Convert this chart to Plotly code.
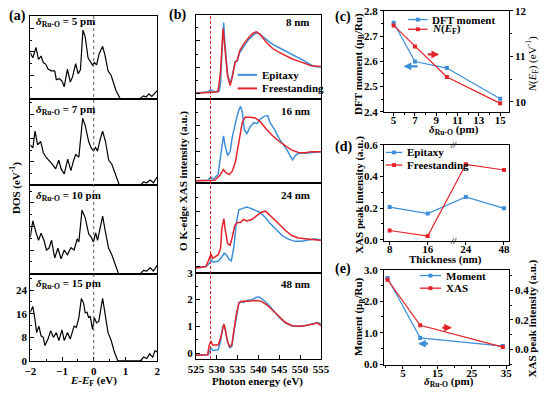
import plotly.graph_objects as go

W, H = 546, 396
BLUE = '#3d8fd9'
RED = '#e3232a'
FONT = 'Liberation Serif'

# ---------------- (a) DOS data ----------------
dos_labels = ['5 pm', '7 pm', '10 pm', '15 pm']
E_5 = [-2.00,-1.92,-1.82,-1.74,-1.66,-1.59,-1.51,-1.44,-1.34,-1.23,-1.18,-1.08,-1.00,-0.93,-0.83,-0.74,-0.67,-0.57,-0.49,-0.42,-0.34,-0.27,-0.18,-0.11,-0.04,0.02,0.09,0.17,0.28,0.35,0.45,0.55,0.70,0.84,1.37,1.47,1.57,1.65,1.74,1.83,1.93,2.00]
D_5 = [15.7,14.0,17.5,13.5,14.6,12.4,11.8,10.2,9.6,9.6,6.6,6.9,6.1,4.2,10.2,5.8,7.5,12.0,8.6,9.9,23.4,21.2,14.0,12.9,11.5,12.4,11.6,15.4,17.9,15.1,9.6,8.0,2.9,0,0,0.3,1.1,0.7,1.8,0.9,2.0,2.9]
E_7 = [-2.00,-1.92,-1.85,-1.77,-1.67,-1.59,-1.49,-1.39,-1.31,-1.20,-1.10,-1.03,-0.93,-0.82,-0.72,-0.64,-0.57,-0.47,-0.35,-0.27,-0.16,-0.08,-0.01,0.06,0.12,0.19,0.28,0.37,0.47,0.57,0.70,0.81,1.47,1.57,1.67,1.78,1.88,2.00]
D_7 = [13.8,12.7,18.4,13.8,14.9,11.1,9.4,8.3,7.2,5.6,8.6,5.6,3.9,8.9,5.0,8.3,10.5,9.6,22.8,20.4,14.9,12.7,11.8,12.9,11.6,15.1,18.4,14.9,8.6,7.2,2.9,0,0,1.2,0.9,1.8,0.9,2.85]
E_10 = [-2.00,-1.92,-1.82,-1.74,-1.66,-1.57,-1.49,-1.41,-1.33,-1.23,-1.13,-1.03,-0.93,-0.83,-0.72,-0.62,-0.52,-0.47,-0.37,-0.27,-0.16,-0.08,-0.01,0.06,0.12,0.19,0.28,0.37,0.47,0.57,0.67,0.78,1.47,1.57,1.67,1.78,1.88,2.00]
D_10 = [12.4,17.9,14.0,11.3,13.7,11.3,8.0,8.6,11.3,5.3,8.6,5.0,8.0,6.4,8.8,8.0,11.8,10.7,21.5,19.0,13.5,12.4,10.7,13.8,11.3,15.1,19.5,14.0,8.6,6.4,3.1,0,0,1.1,0.9,2.0,0.9,2.8]
E_15 = [-2.00,-1.92,-1.85,-1.80,-1.73,-1.66,-1.59,-1.54,-1.44,-1.36,-1.27,-1.18,-1.10,-1.00,-0.93,-0.83,-0.74,-0.62,-0.55,-0.47,-0.39,-0.32,-0.27,-0.21,-0.16,-0.11,-0.04,0.02,0.09,0.16,0.28,0.35,0.45,0.55,0.65,0.76,1.47,1.57,1.67,1.76,1.86,1.93,2.00]
D_15 = [16.5,18.5,14.0,9.6,11.8,8.5,8.0,5.2,7.4,10.2,8.0,9.6,6.9,10.5,6.9,9.6,7.4,11.8,11.3,14.6,21.2,19.6,16.3,16.5,14.6,15.2,10.7,14.6,12.9,13.5,21.2,16.8,9.6,6.9,3.0,0,0,1.3,0.8,2.4,1.3,3.5,3.0]

# ---------------- (b) XAS data ----------------
xas_labels = ['8 nm', '16 nm', '24 nm', '48 nm']
Eb_8 = [525,527.9,528.6,529.5,530.6,530.9,531.2,531.65,532.0,532.6,533.2,533.7,534.4,534.9,535.5,536.4,537.6,538.8,539.5,540.3,541.9,543.4,545.0,546.5,548.0,549.6,551.1,552.3,553.5,555]
Ib_8 = [0,0.06,0.14,0.05,0.1,0.4,1.44,2.7,1.8,0.72,0.36,0.66,1.2,1.23,1.56,1.78,2.05,2.23,2.31,2.26,2.05,1.87,1.74,1.62,1.50,1.38,1.23,1.11,1.02,1.0]
Er_8 = [525,527.9,530.3,530.9,531.5,531.9,532.6,533.2,533.7,534.4,534.9,535.5,536.4,537.6,538.6,539.5,540.3,541.9,543.4,545.0,546.5,548.0,549.6,551.1,552.7,555]
Ir_8 = [0,0.02,0.06,0.84,2.47,1.8,0.66,0.3,0.6,1.2,1.26,1.62,1.87,2.11,2.29,2.35,2.26,1.95,1.71,1.56,1.44,1.32,1.23,1.14,1.05,1.02]
Eb_16 = [525,527.9,528.6,529.1,530.3,531.0,531.6,532.0,532.6,533.2,533.7,534.5,535.3,535.7,536.1,536.6,537.2,538.0,538.9,539.7,540.5,541.5,542.2,542.8,543.8,545.0,546.1,546.9,547.7,548.2,548.8,549.6,551.1,552.7,555]
Ib_16 = [-0.12,-0.1,0.02,-0.06,0.12,0.86,1.6,1.23,0.84,0.99,1.54,2.1,2.59,2.72,2.53,1.85,1.67,1.95,2.1,2.07,2.25,2.35,2.37,2.1,1.85,1.48,1.23,1.05,0.8,0.68,0.84,0.93,0.93,0.96,0.99]
Er_16 = [525,529.5,530.6,531.6,532.2,533.0,533.7,534.5,535.3,536.1,536.8,538.0,539.2,540.3,541.9,543.4,545.0,546.5,548.0,549.6,551.1,552.7,555]
Ir_16 = [-0.12,-0.1,0.06,0.31,0.19,0.12,0.25,0.62,1.36,2.1,2.31,2.31,2.28,2.16,1.85,1.6,1.38,1.21,1.05,0.96,0.95,0.99,0.99]
Eb_24 = [525,527.4,528.3,528.7,529.1,530.3,531.0,531.8,532.2,533.0,533.5,534.1,534.7,535.3,536.1,537.2,538.0,539.2,540.3,541.5,542.6,544.2,545.7,547.3,548.8,550.4,551.9,553.5,555]
Ib_24 = [-0.02,0,0.13,0.25,0.16,0.19,0.3,0.48,0.44,0.25,0.21,0.71,1.59,2.05,2.09,2.15,2.11,2.03,1.96,1.8,1.59,1.35,1.12,0.98,0.91,0.91,0.95,1.0,0.95]
Er_24 = [525,527.4,528.1,528.6,529.0,530.3,530.9,531.2,531.7,532.0,532.6,533.2,533.7,534.3,534.9,535.7,536.4,537.2,538.4,539.5,540.7,541.7,542.6,543.8,545.0,546.5,548.0,549.6,551.1,552.7,555]
Ir_24 = [-0.05,0,0.25,0.46,0.3,0.42,0.65,1.35,1.73,1.35,0.83,0.77,1.06,1.47,1.59,1.59,1.7,1.65,1.7,1.82,1.96,2.0,1.88,1.7,1.53,1.3,1.12,1.03,1.0,0.98,0.95]
Eb_48 = [525,527.9,528.6,529.1,530.3,530.9,531.4,531.7,532.0,532.6,533.1,533.6,534.1,534.7,535.3,535.7,536.4,537.2,538.4,539.5,540.3,541.1,542.2,543.4,545.0,546.5,548.0,549.6,551.1,552.7,554.2,555]
Ib_48 = [-0.08,-0.06,0.18,0.1,0.12,0.42,0.96,1.08,0.9,0.42,0.2,0.24,0.78,1.39,1.87,1.93,1.89,1.96,1.99,2.08,2.08,1.99,1.84,1.63,1.33,1.12,1.02,0.99,1.02,1.08,1.14,1.08]
Er_48 = [525,527.8,528.2,528.6,529.0,530.3,530.9,531.4,531.7,532.0,532.6,533.1,533.6,534.1,534.7,535.3,536.1,537.2,538.4,539.5,540.7,541.9,543.4,545.0,546.5,548.0,549.6,551.1,552.7,554.2,555]
Ir_48 = [-0.08,-0.06,0.3,0.45,0.3,0.3,0.54,0.96,1.08,0.9,0.42,0.24,0.3,0.84,1.45,1.87,1.93,1.93,1.95,1.96,1.93,1.81,1.6,1.35,1.14,1.02,1.0,1.02,1.08,1.12,1.02]
edge_E = 528.5

# ---------------- (c) ----------------
delta_c = [5, 7, 10, 15]
moment_c = [2.753, 2.599, 2.573, 2.451]
nef_c = [11.68, 11.22, 10.55, 9.97]

# ---------------- (d) ----------------
thickness = ['8', '16', '24', '48']
epi_d = [0.206, 0.165, 0.27, 0.198]
free_d = [0.058, 0.023, 0.476, 0.44]

# ---------------- (e) ----------------
delta_e = [0.5, 10, 34]
moment_e = [2.74, 0.835, 0.575]
xas_e = [0.473, 0.163, 0.015]


def px(x):
    return x / W


def py(y):
    return 1 - y / H


def fnt(size=11, color='black', weight='bold', italic=False):
    d = dict(family=FONT, size=size, color=color, weight=weight)
    if italic:
        d['style'] = 'italic'
    return d


def axn(i, c):
    return f'{c}axis' if i == 1 else f'{c}axis{i}'


def ref(i, c):
    return c if i == 1 else f'{c}{i}'


def base_axis(**kw):
    d = dict(showline=True, linecolor='black', linewidth=1, mirror=True, showgrid=False,
             zeroline=False, ticks='inside', ticklen=4, tickwidth=1, tickcolor='black',
             tickfont=fnt(11))
    d.update(kw)
    return d


fig = go.Figure()
layout = dict(width=W, height=H, margin=dict(l=0, r=0, t=0, b=0),
              paper_bgcolor='white', plot_bgcolor='rgba(0,0,0,0)', showlegend=False,
              font=fnt(11))
shapes = []
annotations = []


def ann(text, x, y, size=11, xanchor='center', angle=0, weight='bold', color='black'):
    annotations.append(dict(text=text, x=px(x), y=py(y), xref='paper', yref='paper',
                            showarrow=False, xanchor=xanchor, yanchor='middle',
                            textangle=angle, font=fnt(size, color, weight)))


# ---- panel (a) ----
a_rows = [(10, 96), (96, 185), (185, 276), (276, 366)]
a_top = [28.3, 29.3, 29.9, 29.6]
dos_E = [E_5, E_7, E_10, E_15]
dos_D = [D_5, D_7, D_10, D_15]
for k in range(4):
    i = k + 1
    t, b = a_rows[k]
    last = (k == 3)
    layout[axn(i, 'x')] = base_axis(domain=[px(23), px(154)], range=[-2, 2], anchor=ref(i, 'y'),
                                    tickvals=[-2, -1, 0, 1, 2], showticklabels=last,
                                    ticks='inside' if last else '',
                                    minor=dict(ticks='inside' if last else '', ticklen=2, dtick=0.5, tick0=0))
    layout[axn(i, 'y')] = base_axis(domain=[py(b), py(t)], range=[0, a_top[k]], anchor=ref(i, 'x'),
                                    tick0=0, dtick=8, showticklabels=last,
                                    minor=dict(ticks='inside', ticklen=2, dtick=4, tick0=0))
    fig.add_trace(go.Scatter(x=dos_E[k], y=dos_D[k], mode='lines', line=dict(color='black', width=1.2),
                             xaxis=ref(i, 'x'), yaxis=ref(i, 'y')))
    ann('<i>δ</i><sub>Ru-O</sub> = ' + dos_labels[k], 27, (17 if k == 0 else t + 11), xanchor='left')

shapes.append(dict(type='line', xref='x', yref='paper', x0=0, x1=0, y0=py(366), y1=py(10),
                   line=dict(color='#555555', width=1, dash='dot')))

# ---- panel (b) ----
b_rows = [(9, 96), (96, 183), (183, 275), (275, 364)]
xas_b = [(Eb_8, Ib_8, Er_8, Ir_8), (Eb_16, Ib_16, Er_16, Ir_16),
         (Eb_24, Ib_24, Er_24, Ir_24), (Eb_48, Ib_48, Er_48, Ir_48)]
for k in range(4):
    i = k + 5
    t, b = b_rows[k]
    last = (k == 3)
    layout[axn(i, 'x')] = base_axis(domain=[px(194), px(323)], range=[525, 555], anchor=ref(i, 'y'),
                                    tick0=525, dtick=5, showticklabels=last,
                                    ticks='inside' if last else '')
    layout[axn(i, 'y')] = base_axis(domain=[py(b), py(t)], range=[-0.22, 3.0], anchor=ref(i, 'x'),
                                    tick0=0, dtick=1, showticklabels=last,
                                    minor=dict(ticks='inside', ticklen=2, dtick=0.5, tick0=0))
    eb, ib, er, ir = xas_b[k]
    fig.add_trace(go.Scatter(x=eb, y=ib, mode='lines', line=dict(color=BLUE, width=1.5),
                             xaxis=ref(i, 'x'), yaxis=ref(i, 'y')))
    fig.add_trace(go.Scatter(x=er, y=ir, mode='lines', line=dict(color=RED, width=1.5),
                             xaxis=ref(i, 'x'), yaxis=ref(i, 'y')))
    ann(xas_labels[k], 314, (16 if k == 0 else t + 12), xanchor='right')

shapes.append(dict(type='line', xref='x5', yref='paper', x0=edge_E, x1=edge_E, y0=py(364), y1=py(9),
                   line=dict(color=RED, width=1, dash='3px,2px')))

# ---- panel (c) ----
layout['xaxis9'] = base_axis(domain=[px(388), px(517)], range=[4.09, 15.82], anchor='y9',
                             tickvals=[5, 7, 9, 11, 13, 15], ticks='outside', ticklen=3,
                             ticklabelstandoff=-5,
                             minor=dict(ticks='outside', ticklen=2, dtick=1, tick0=0))
layout['yaxis9'] = base_axis(domain=[py(109), py(5)], range=[2.4, 2.8], anchor='x9', ticks='outside',
                             ticklen=3, tick0=2.4, dtick=0.1, tickformat='.1f',
                             minor=dict(ticks='outside', ticklen=2, dtick=0.05, tick0=2.4))
layout['yaxis10'] = base_axis(range=[9.787, 12], anchor='x9', overlaying='y9', side='right',
                              ticks='outside', ticklen=3, mirror=False, tick0=10, dtick=1,
                              minor=dict(ticks='outside', ticklen=2, dtick=0.5, tick0=10))
fig.add_trace(go.Scatter(x=delta_c, y=moment_c, mode='lines+markers', line=dict(color=BLUE, width=1.2),
                         marker=dict(symbol='square', size=4, color=BLUE), xaxis='x9', yaxis='y9'))
fig.add_trace(go.Scatter(x=delta_c, y=nef_c, mode='lines+markers', line=dict(color=RED, width=1.2),
                         marker=dict(symbol='square', size=4, color=RED), xaxis='x9', yaxis='y10'))

# ---- panel (d) ----
layout['xaxis10'] = base_axis(domain=[px(388), px(517)], type='category', range=[-0.15, 3.13],
                              anchor='y11', ticks='outside', ticklen=3, ticklabelstandoff=-5)
layout['yaxis11'] = base_axis(domain=[py(242), py(143)], range=[-0.006, 0.6], anchor='x10',
                              ticks='outside', ticklen=3, tick0=0, dtick=0.2, tickformat='.1f',
                              minor=dict(ticks='outside', ticklen=2, dtick=0.1, tick0=0))
fig.add_trace(go.Scatter(x=thickness, y=epi_d, mode='lines+markers', line=dict(color=BLUE, width=1.2),
                         marker=dict(symbol='square', size=4, color=BLUE), xaxis='x10', yaxis='y11'))
fig.add_trace(go.Scatter(x=thickness, y=free_d, mode='lines+markers', line=dict(color=RED, width=1.2),
                         marker=dict(symbol='square', size=4, color=RED), xaxis='x10', yaxis='y11'))
for yy in (143, 242):
    annotations.append(dict(text='//', x=1.69, y=py(yy), xref='x10', yref='paper', showarrow=False,
                            font=fnt(9, italic=True), xanchor='center', yanchor='middle'))

# ---- panel (e) ----
layout['xaxis11'] = base_axis(domain=[px(388), px(517)], range=[-0.54, 35.76], anchor='y12',
                              tickvals=[5, 15, 25, 35], ticks='outside', ticklen=3, ticklabelstandoff=-5,
                              minor=dict(ticks='outside', ticklen=2, dtick=5, tick0=0))
layout['yaxis12'] = base_axis(domain=[py(370), py(272)], range=[-0.02, 3.0], anchor='x11',
                              ticks='outside', ticklen=3, tick0=0, dtick=1, tickformat='.1f',
                              minor=dict(ticks='outside', ticklen=2, dtick=0.5, tick0=0))
layout['yaxis13'] = base_axis(range=[-0.105, 0.54], anchor='x11', overlaying='y12', side='right',
                              ticks='outside', ticklen=3, mirror=False, tickvals=[0, 0.2, 0.4],
                              tickformat='.1f',
                              minor=dict(ticks='outside', ticklen=2, dtick=0.1, tick0=0))
fig.add_trace(go.Scatter(x=delta_e, y=moment_e, mode='lines+markers', line=dict(color=BLUE, width=1.2),
                         marker=dict(symbol='square', size=4, color=BLUE), xaxis='x11', yaxis='y12'))
fig.add_trace(go.Scatter(x=delta_e, y=xas_e, mode='lines+markers', line=dict(color=RED, width=1.2),
                         marker=dict(symbol='square', size=4, color=RED), xaxis='x11', yaxis='y13'))


# ---- arrows ----
def arrow(xh, yh, xt, yt, xr, yr, color):
    annotations.append(dict(x=xh, y=yh, ax=xt, ay=yt, xref=xr, yref=yr, axref=xr, ayref=yr,
                            showarrow=True, arrowhead=2, arrowsize=0.7, arrowwidth=2.2,
                            arrowcolor=color, text=''))


arrow(9.27, 2.627, 8.06, 2.627, 'x9', 'y9', RED)
arrow(5.94, 2.58, 7.39, 2.58, 'x9', 'y9', BLUE)
arrow(19.2, 1.16, 16.0, 1.16, 'x11', 'y12', RED)
arrow(9.4, 0.65, 12.7, 0.65, 'x11', 'y12', BLUE)


# ---- manual legends ----
def leg(x0, x1, y, color, text, marker=True, width=1.3):
    shapes.append(dict(type='line', xref='paper', yref='paper', x0=px(x0), x1=px(x1),
                       y0=py(y), y1=py(y), line=dict(color=color, width=width)))
    if marker:
        m = (x0 + x1) / 2
        shapes.append(dict(type='rect', xref='paper', yref='paper', x0=px(m - 2), x1=px(m + 2),
                           y0=py(y + 2), y1=py(y - 2), fillcolor=color, line=dict(width=0)))
    ann(text, x1 + 3, y, xanchor='left')


leg(237, 257, 71, BLUE, 'Epitaxy', marker=False, width=2)
leg(237, 257, 85, RED, 'Freestanding', marker=False, width=2)
leg(413, 433, 14, BLUE, 'DFT moment')
leg(413, 433, 24, RED, '<i>N</i>(<i>E</i><sub>F</sub>)')
leg(390, 407, 151, BLUE, 'Epitaxy')
leg(390, 407, 164, RED, 'Freestanding')
leg(425, 447, 278, BLUE, 'Moment')
leg(425, 447, 291, RED, 'XAS')

# ---- axis titles & panel labels ----
ann('DOS (eV<sup>-1</sup>)', 8, 188, angle=-90)
ann('<i>E</i>-<i>E</i><sub>F</sub> (eV)', 88, 387)
ann('O K-edge XAS intensity (a.u.)', 181, 180, angle=-90)
ann('Photon energy (eV)', 258, 387)
ann('DFT moment (μ<sub>B</sub>/Ru)', 362, 60, angle=-90)
ann('<i>N</i>(<i>E</i><sub>F</sub>) (eV<sup>-1</sup>)', 541, 60, angle=-90, weight='normal')
ann('<i>δ</i><sub>Ru-O</sub> (pm)', 460, 128)
ann('XAS peak intensity (a.u.)', 362, 195, angle=-90)
ann('Thickness (nm)', 452, 261)
ann('Moment (μ<sub>B</sub>/Ru)', 363, 320, angle=-90)
ann('XAS peak intensity (a.u.)', 541, 322, angle=-90)
ann('<i>δ</i><sub>Ru-O</sub> (pm)', 455, 388)
ann('(a)', 10, 10, size=14)
ann('(b)', 175, 9, size=14)
ann('(c)', 346, 11, size=14)
ann('(d)', 346, 145, size=14)
ann('(e)', 346, 271, size=14)

layout['shapes'] = shapes
layout['annotations'] = annotations
fig.update_layout(**layout)
fig.write_html('out.html')
